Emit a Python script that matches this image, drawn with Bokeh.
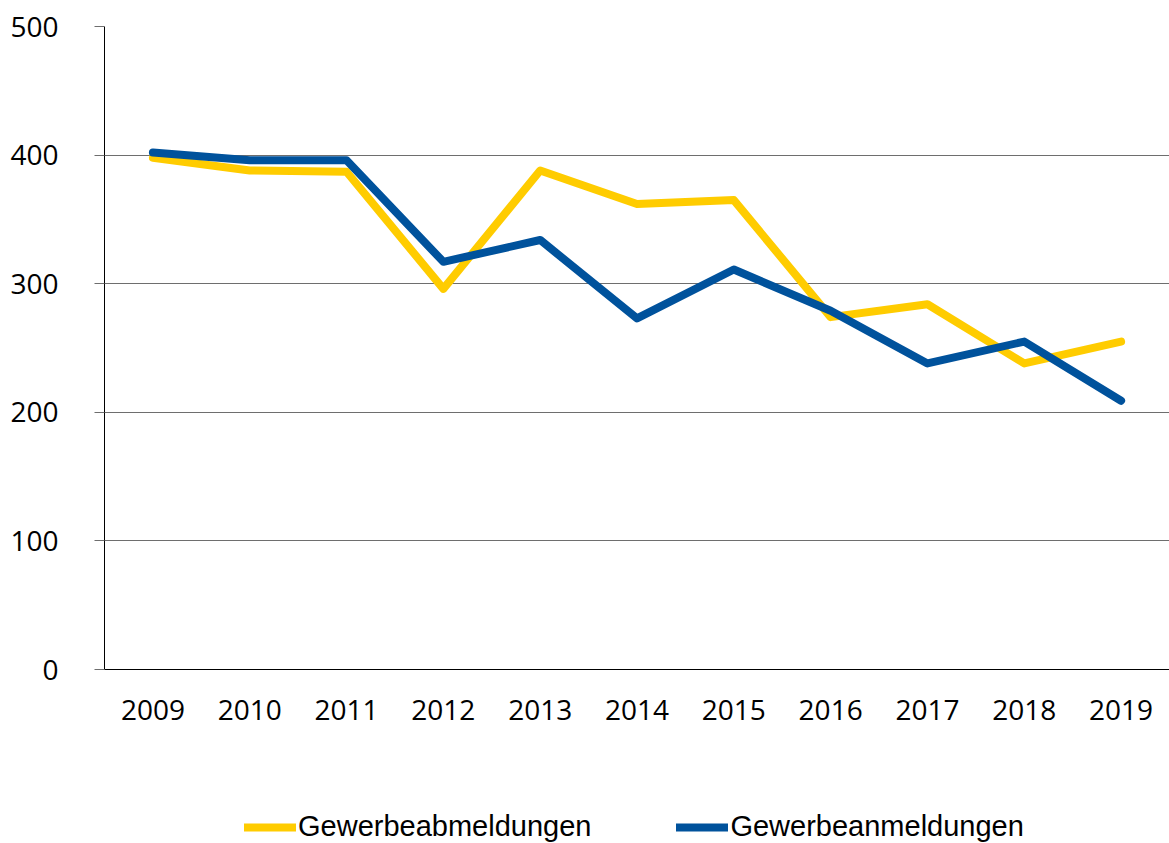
from bokeh.plotting import figure
from bokeh.layouts import column
from bokeh.models import Legend, LegendItem, FixedTicker, Range1d, FactorRange
from bokeh.embed import file_html
from bokeh.resources import INLINE

years = ["2009", "2010", "2011", "2012", "2013", "2014", "2015", "2016", "2017", "2018", "2019"]
abmeldungen = [398, 388, 387, 296, 388, 362, 365, 274, 284, 238, 255]
anmeldungen = [402, 396, 396, 317, 334, 273, 311, 279, 238, 255, 209]
y_ticks = [0, 100, 200, 300, 400, 500]
series_names = ["Gewerbeabmeldungen", "Gewerbeanmeldungen"]
series_colors = ["#FFCC00", "#00529C"]

p = figure(
    x_range=FactorRange(*years),
    y_range=Range1d(0, 500),
    width=1169, height=780,
    min_border_left=104, min_border_right=0, min_border_top=26, min_border_bottom=111,
    output_backend="svg", toolbar_location=None,
)
p.outline_line_color = None
p.background_fill_color = "white"
p.border_fill_color = "white"

p.line(x=years, y=abmeldungen, line_color=series_colors[0], line_width=8,
       line_cap="round", line_join="round")
p.line(x=years, y=anmeldungen, line_color=series_colors[1], line_width=8,
       line_cap="round", line_join="round")

p.xgrid.grid_line_color = None
p.ygrid.ticker = FixedTicker(ticks=y_ticks)
p.ygrid.grid_line_color = "#6e6e6e"
p.ygrid.grid_line_width = 1

p.yaxis.ticker = FixedTicker(ticks=y_ticks)
p.yaxis.axis_line_color = "black"
p.yaxis.axis_line_width = 1
p.yaxis.major_tick_out = 10
p.yaxis.major_tick_in = 0
p.yaxis.major_tick_line_color = "#6e6e6e"
p.yaxis.minor_tick_line_color = None
p.yaxis.major_label_standoff = 36
p.yaxis.major_label_text_font = "Open Sans"
p.yaxis.major_label_text_font_size = "28px"
p.yaxis.major_label_text_color = "black"

p.xaxis.axis_line_color = "black"
p.xaxis.axis_line_width = 1
p.xaxis.major_tick_out = 0
p.xaxis.major_tick_in = 0
p.xaxis.major_tick_line_color = None
p.xaxis.minor_tick_line_color = None
p.xaxis.major_label_standoff = 30
p.xaxis.major_label_text_font = "Open Sans"
p.xaxis.major_label_text_font_size = "28px"
p.xaxis.major_label_text_color = "black"

# legend strip (its own lines lie outside its visible range; only the legend shows)
q = figure(
    x_range=FactorRange(*years), y_range=Range1d(1000, 1001),
    width=1169, height=63,
    min_border_left=0, min_border_right=0, min_border_top=0, min_border_bottom=0,
    x_axis_location=None, y_axis_location=None,
    output_backend="svg", toolbar_location=None,
)
q.outline_line_color = None
q.xgrid.grid_line_color = None
q.ygrid.grid_line_color = None
q.background_fill_color = "white"
q.border_fill_color = "white"

l1 = q.line(x=years, y=abmeldungen, line_color=series_colors[0], line_width=8, line_cap="round")
l2 = q.line(x=years, y=anmeldungen, line_color=series_colors[1], line_width=8, line_cap="round")

legend = Legend(
    items=[LegendItem(label=series_names[0], renderers=[l1]),
           LegendItem(label=series_names[1], renderers=[l2])],
    orientation="horizontal",
    location=(140, 0),
    glyph_width=52, glyph_height=10,
    label_standoff=2, spacing=85,
    label_text_font="Liberation Sans", label_text_font_size="29px",
    label_text_color="black",
    border_line_color=None, background_fill_alpha=0,
    padding=0, margin=0,
)
q.add_layout(legend, "center")

layout = column(p, q, spacing=0)
open("out.html", "w").write(file_html(layout, INLINE))
